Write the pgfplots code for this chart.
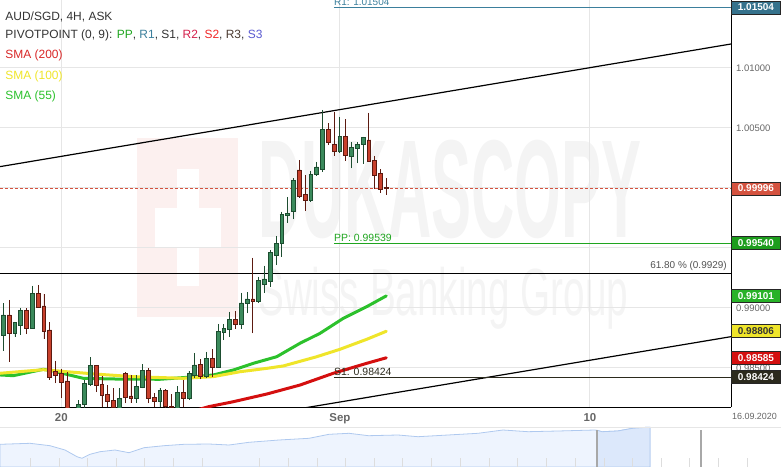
\documentclass[border=0pt]{standalone}
\usepackage{fontspec}
\setmainfont{Liberation Sans}
\usepackage{graphicx}
\usepackage{pgfplots}
\usepackage{pgfplotstable}
\usepgfplotslibrary{statistics}
\pgfplotsset{compat=1.18}

\definecolor{gridgray}{HTML}{E6E6E6}
\definecolor{upfill}{HTML}{3B8A5C}
\definecolor{updark}{HTML}{1D4D30}
\definecolor{dnfill}{HTML}{C8402C}
\definecolor{dndark}{HTML}{5C1A10}
\definecolor{smagreen}{HTML}{2CC12C}
\definecolor{smayellow}{HTML}{EFE52A}
\definecolor{smared}{HTML}{D40F0F}
\definecolor{ppgreen}{HTML}{1FA51F}
\definecolor{r1teal}{HTML}{3B7F9C}
\definecolor{s1dark}{HTML}{2B2A1D}
\definecolor{lastred}{HTML}{D4523F}
\definecolor{txtdark}{HTML}{333333}
\definecolor{ticklab}{HTML}{666666}
\definecolor{wmgray}{HTML}{F4F4F4}
\definecolor{wmpink}{HTML}{FCF0EF}
\definecolor{navfill}{HTML}{EEF4FE}
\definecolor{navsel}{HTML}{DCE8FB}
\definecolor{navline}{HTML}{AFC9EF}
\definecolor{navtick}{HTML}{DDDDDD}
\definecolor{navhandle}{HTML}{A8A8A8}

\newcommand\fs[1]{\fontsize{#1}{#1}\selectfont}

% AUD/SGD 4H candles: open high low close
\pgfplotstableread{
i  o       h       l       c
0  0.98769 0.99039 0.98644 0.98942
1  0.98942 0.99067 0.98553 0.98789
2  0.98789 0.98885 0.98761 0.98881
3  0.98858 0.99003 0.98775 0.98983
4  0.98983 0.98998 0.98783 0.98831
5  0.98831 0.99186 0.98828 0.99123
6  0.99123 0.99192 0.99000 0.99006
7  0.99017 0.99117 0.98742 0.98803
8  0.98817 0.98881 0.98400 0.98422
9  0.98469 0.98561 0.98372 0.98442
10 0.98456 0.98492 0.98247 0.98381
11 0.98392 0.98464 0.98067 0.98108
12 0.98083 0.98158 0.98000 0.98133
13 0.98133 0.98233 0.98067 0.98200
14 0.98197 0.98400 0.98150 0.98372
15 0.98364 0.98589 0.98350 0.98519
16 0.98522 0.98525 0.98300 0.98354
17 0.98365 0.98433 0.98178 0.98272
18 0.98282 0.98358 0.98178 0.98219
19 0.98233 0.98333 0.98150 0.98171
20 0.98167 0.98333 0.98133 0.98250
21 0.98456 0.98467 0.98206 0.98254
22 0.98267 0.98442 0.98208 0.98244
23 0.98250 0.98442 0.98211 0.98348
24 0.98338 0.98533 0.98331 0.98483
25 0.98483 0.98497 0.98206 0.98247
26 0.98258 0.98289 0.98178 0.98219
27 0.98219 0.98333 0.98175 0.98310
28 0.98310 0.98322 0.98171 0.98178
29 0.98183 0.98283 0.98133 0.98171
30 0.98167 0.98350 0.98133 0.98300
31 0.98300 0.98400 0.98175 0.98244
32 0.98244 0.98475 0.98242 0.98456
33 0.98442 0.98627 0.98414 0.98525
34 0.98533 0.98577 0.98406 0.98427
35 0.98427 0.98636 0.98425 0.98581
36 0.98581 0.98658 0.98427 0.98506
37 0.98506 0.98867 0.98500 0.98808
38 0.98794 0.98867 0.98733 0.98831
39 0.98822 0.98969 0.98761 0.98906
40 0.98906 0.98975 0.98825 0.98864
41 0.98863 0.99129 0.98825 0.99042
42 0.99039 0.99131 0.98956 0.99075
43 0.99075 0.99419 0.98789 0.99053
44 0.99053 0.99261 0.99042 0.99233
45 0.99200 0.99353 0.99128 0.99242
46 0.99225 0.99483 0.99178 0.99461
47 0.99442 0.99600 0.99358 0.99539
48 0.99539 0.99803 0.99428 0.99781
49 0.99769 0.99925 0.99711 0.99789
50 0.99808 1.00081 0.99738 1.00063
51 1.00150 1.00233 0.99922 0.99928
52 0.99947 1.00108 0.99811 0.99894
53 0.99894 1.00142 0.99883 1.00115
54 1.00113 1.00219 1.00100 1.00175
55 1.00158 1.00650 1.00136 1.00490
56 1.00489 1.00539 1.00358 1.00381
57 1.00365 1.00636 1.00267 1.00303
58 1.00303 1.00594 1.00300 1.00433
59 1.00433 1.00572 1.00228 1.00269
60 1.00261 1.00381 1.00164 1.00339
61 1.00331 1.00386 1.00206 1.00364
62 1.00364 1.00428 1.00200 1.00419
63 1.00400 1.00628 1.00219 1.00225
64 1.00233 1.00269 0.99992 1.00108
65 1.00122 1.00158 0.99961 0.99992
66 1.00006 1.00081 0.99942 0.99996
}\candles

\begin{document}
\begin{tikzpicture}[x=1bp,y=1bp]
\useasboundingbox (0bp,-60bp) rectangle (781bp,407bp);

% watermark
\fill[wmpink] (137,90) rectangle (238,269);
\fill[white] (177,121) rectangle (199,238);
\fill[white] (155,160) rectangle (221,199);
\node[anchor=base west, inner sep=0, text=wmgray] at (258,170)
  {\scalebox{0.43}[1]{\fs{140}\bfseries DUKASCOPY}};
\node[anchor=base west, inner sep=0, text=wmgray] at (258,92)
  {\scalebox{0.58}[1]{\fs{67}Swiss Banking Group}};

\begin{axis}[
  at={(0bp,0bp)}, anchor=south west,
  scale only axis, width=731bp, height=407bp,
  xmin=-0.5687, xmax=125.40,
  ymin=0.98175, ymax=1.0156667,
  axis x line*=bottom, axis y line*=right,
  axis line style={black, line width=1bp},
  xtick={10,58,101.1}, xticklabels={20,Sep,10},
  ytick={0.985,0.99,0.995,1,1.005,1.01},
  yticklabels={0.98500,0.99000,,,1.00500,1.01000},
  scaled y ticks=false,
  major tick length=0pt,
  xticklabel style={font=\fs{11.5}\bfseries, text=ticklab, inner sep=0pt, anchor=north, yshift=-6bp},
  yticklabel style={font=\fs{9.5}, text=ticklab, inner sep=0pt, anchor=west, xshift=5bp},
  grid=major, grid style={draw=gridgray, line width=1bp},
  clip mode=individual,
  boxplot/draw direction=y,
  boxplot/box extend=0.66,
  boxplot/whisker extend=0,
  candle up/.style={draw=updark, fill=upfill, line width=0.8bp},
  candle dn/.style={draw=dndark, fill=dnfill, line width=0.8bp},
]
% 61.8 % retracement
\addplot[black, line width=1.1bp] coordinates {(-0.5687,0.9929)(125.4,0.9929)};
% trend channel
\addplot[black, line width=1.2bp] coordinates {(-0.5687,1.00178)(125.4,1.01200)};
\addplot[black, line width=1.2bp] coordinates {(50,0.98152)(125.4,0.98761)};
% pivot points
\addplot[r1teal, line width=1.1bp] coordinates {(56.98,1.01504)(125.4,1.01504)};
\addplot[ppgreen, line width=1.1bp] coordinates {(56.98,0.99539)(125.4,0.99539)};
\addplot[s1dark, line width=1.1bp] coordinates {(56.98,0.98424)(125.4,0.98424)};
% last price
\addplot[lastred, line width=1bp, dash pattern=on 3bp off 2bp] coordinates {(-0.5687,0.99996)(125.4,0.99996)};

% SMAs
\addplot[smagreen, line width=3bp, line cap=round] coordinates {
  (-0.57,0.98442)(1.72,0.98436)(6.89,0.98489)(8.62,0.98475)(10.93,0.98447)
  (13.79,0.98414)(19.54,0.98408)(27.0,0.98406)(31.6,0.98422)(36.19,0.98442)
  (39.63,0.98483)(43.08,0.98539)(47.11,0.98594)(51.13,0.98706)(54.58,0.98789)
  (58.59,0.98914)(62.62,0.99011)(66,0.99101)};
\addplot[smayellow, line width=3bp, line cap=round] coordinates {
  (-0.57,0.98456)(6.89,0.98486)(10.93,0.98469)(16.66,0.98447)(22.4,0.98428)
  (31.02,0.98414)(36.19,0.98428)(40.79,0.98469)(45.39,0.98497)(48.25,0.98517)
  (54.01,0.98594)(58.02,0.98656)(62.62,0.98739)(66,0.98806)};
\addplot[smared, line width=3bp, line cap=round] coordinates {
  (32.17,0.98133)(35.33,0.98177)(39.63,0.98219)(45.39,0.98283)(51.13,0.98358)
  (56.87,0.98456)(62.62,0.98539)(66,0.98585)};

% candles
\pgfplotsinvokeforeach{0,...,66}{%
  \pgfplotstablegetelem{#1}{o}\of\candles \let\cO\pgfplotsretval
  \pgfplotstablegetelem{#1}{h}\of\candles \let\cH\pgfplotsretval
  \pgfplotstablegetelem{#1}{l}\of\candles \let\cL\pgfplotsretval
  \pgfplotstablegetelem{#1}{c}\of\candles \let\cC\pgfplotsretval
  \ifdim\cC pt<\cO pt
    \edef\cand{\noexpand\addplot[candle dn, boxplot prepared={draw position=#1,
      lower whisker=\cL, lower quartile=\cC, median=\cO, upper quartile=\cO,
      upper whisker=\cH}] coordinates {};}%
  \else
    \edef\cand{\noexpand\addplot[candle up, boxplot prepared={draw position=#1,
      lower whisker=\cL, lower quartile=\cO, median=\cC, upper quartile=\cC,
      upper whisker=\cH}] coordinates {};}%
  \fi
  \cand
}

% level labels
\node[anchor=south west, inner sep=0, yshift=1.5bp, text=r1teal, font=\fs{10}] at (axis cs:56.98,1.01504) {R1: 1.01504};
\node[anchor=south west, inner sep=0, yshift=1.5bp, text=ppgreen, font=\fs{10.5}] at (axis cs:56.98,0.99539) {PP: 0.99539};
\node[anchor=south west, inner sep=0, yshift=1.5bp, text=s1dark, font=\fs{10.5}] at (axis cs:56.98,0.98424) {S1: 0.98424};
\node[anchor=south east, inner sep=0, yshift=2.5bp, text=txtdark!85, font=\fs{10}] at (axis cs:124.7,0.9929) {61.80 \% (0.9929)};

\coordinate (fR1) at (axis cs:125.4,1.01504);
\coordinate (fLast) at (axis cs:125.4,0.99996);
\coordinate (fPP) at (axis cs:125.4,0.99540);
\coordinate (fG) at (axis cs:125.4,0.99101);
\coordinate (fY) at (axis cs:125.4,0.98806);
\coordinate (fR) at (axis cs:125.4,0.98585);
\coordinate (fS1) at (axis cs:125.4,0.98424);
\end{axis}

% navigator
\begin{axis}[
  at={(0bp,-60bp)}, anchor=south west,
  scale only axis, width=781bp, height=40bp,
  xmin=0, xmax=781, ymin=0, ymax=40,
  hide axis, clip=false,
]
\addplot[draw=navline, fill=navfill, line width=0.8bp] coordinates {
  (0,22.7)(30,23.7)(50,21.3)(65,17)(77,10.3)(82,8.7)(90,12.7)(100,15.3)(115,17)
  (129,14.3)(144,19.3)(164,21.3)(184,22.7)(209,23)(229,22)(249,24.7)(279,27)
  (309,28.7)(329,32.7)(349,33.7)(368.5,31.3)(398,32)(418,30.3)(448,32)(478,33.7)
  (503,37)(528,35.3)(558,36)(595,37)(602,35.3)(617.5,36)(632.5,38.7)(646.4,39.7)
  (650,39.7)} \closedcycle;
\addplot[draw=navline, fill=navsel, line width=0.8bp] coordinates {
  (597,36.8)(602,35.3)(617.5,36)(632.5,38.7)(646.4,39.7)(650,39.7)} \closedcycle;
\addplot[ycomb, draw=navtick, line width=0.8bp] coordinates {
  (30,9)(59,9)(87,9)(116,9)(144,9)(173,9)(202,9)(259,9)(288,9)(317,9)(345,9)
  (374,9)(402,9)(431,9)(460,9)(489,9)(517,9)(546,9)(575,9)(604,9)(632,9)(661,9)
  (689,9)(718,9)(747,9)};
\addplot[ycomb, draw=navhandle, line width=2bp] coordinates {(597,37)(701,37)};
\addplot[draw=gridgray, line width=0.8bp] coordinates {(0,40)(781,40)};
\end{axis}

% value flags
\tikzset{flag/.style={anchor=west, minimum width=49bp, minimum height=13bp, inner sep=0,
  draw=black!85, line width=0.8bp, font=\fs{10}\bfseries, text=white}}
\node[flag, fill=r1teal!90!black] at (fR1) {1.01504};
\node[flag, fill=lastred] at (fLast) {0.99996};
\node[flag, fill=ppgreen!95!black] at (fPP) {0.99540};
\node[flag, fill=smagreen!92!black] at (fG) {0.99101};
\node[flag, fill=smayellow, text=txtdark] at (fY) {0.98806};
\node[flag, fill=smared] at (fR) {0.98585};
\node[flag, fill=s1dark] at (fS1) {0.98424};

\node[text=ticklab, font=\fs{9}] at (754.5bp,-9.7bp) {16.09.2020};

% legend
\node[anchor=base west, inner sep=0, font=\fs{12}, text=txtdark] at (5.3,387) {AUD/SGD, 4H, ASK};
\node[anchor=base west, inner sep=0, font=\fs{12}, text=txtdark] at (5.3,368.5)
  {PIVOTPOINT (0, 9): \textcolor{ppgreen}{PP}, \textcolor{r1teal}{R1}, S1,
   \textcolor[HTML]{D4204C}{R2}, \textcolor[HTML]{F02828}{S2}, \textcolor[HTML]{4A3A30}{R3},
   \textcolor[HTML]{5A5AD0}{S3}};
\node[anchor=base west, inner sep=0, font=\fs{12}, text=smared!90] at (5.3,348.5) {SMA (200)};
\node[anchor=base west, inner sep=0, font=\fs{12}, text=smayellow] at (5.3,327.5) {SMA (100)};
\node[anchor=base west, inner sep=0, font=\fs{12}, text=smagreen] at (5.3,307.5) {SMA (55)};
\end{tikzpicture}
\end{document}
